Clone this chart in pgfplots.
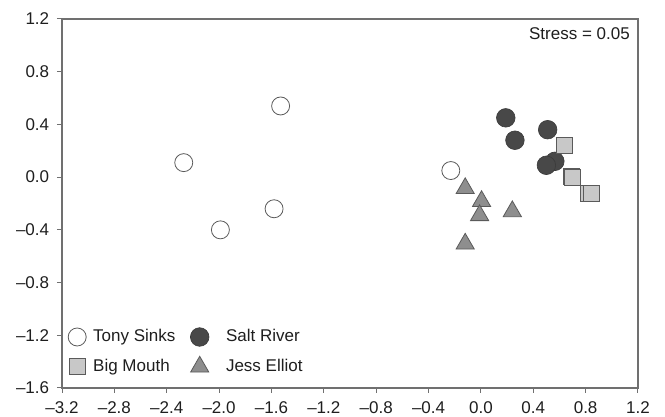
\documentclass[border=0pt]{standalone}
\usepackage{fontspec}
\setmainfont{Liberation Sans}
\usepackage{pgfplots}
\pgfplotsset{compat=1.18}
\definecolor{axgray}{HTML}{707070}
\definecolor{txt}{HTML}{1E1E1E}
\definecolor{edgegray}{HTML}{5A5A5A}
\definecolor{darkfill}{HTML}{484848}
\definecolor{lightfill}{HTML}{C8C8C8}
\definecolor{midfill}{HTML}{8E8E8E}
\begin{document}
\fontsize{17}{20}\selectfont
\begin{tikzpicture}
\useasboundingbox (0,0) rectangle (665pt,417pt);
\begin{axis}[
  at={(62pt,29pt)}, anchor=south west,
  width=576pt, height=369pt, scale only axis,
  xmin=-3.2, xmax=1.2, ymin=-1.6, ymax=1.2,
  xtick={-3.2,-2.8,-2.4,-2.0,-1.6,-1.2,-0.8,-0.4,0,0.4,0.8,1.2},
  xticklabels={–3.2,–2.8,–2.4,–2.0,–1.6,–1.2,–0.8,–0.4,0.0,0.4,0.8,1.2},
  ytick={-1.6,-1.2,-0.8,-0.4,0,0.4,0.8,1.2},
  yticklabels={–1.6,–1.2,–0.8,–0.4,0.0,0.4,0.8,1.2},
  axis line style={axgray, line width=1.1pt},
  tick style={axgray, line width=1pt},
  tick align=outside, major tick length=5pt,
  xtick pos=left, ytick pos=left,
  xticklabel style={text=txt, yshift=-2.5pt},
  yticklabel style={text=txt, xshift=-2pt},
  clip=false,
  legend columns=2,
  legend cell align=left,
  legend image code/.code={\draw[#1] plot coordinates {(0pt,0pt)};},
  legend style={draw=none, fill=none, inner sep=0pt, text=txt,
    at={(rel axis cs:0,0)}, anchor=south west, xshift=6pt, yshift=13pt,
    nodes={inner sep=0pt, anchor=west},
    /tikz/every odd column/.append style={column sep=7pt},
    /tikz/every even column/.append style={column sep=15pt},
    row sep=10pt},
]
\addplot[only marks, mark=*, mark size=9pt, mark options={draw=edgegray, fill=white, line width=0.8pt}]
  coordinates {(-1.53,0.54) (-2.27,0.11) (-1.58,-0.24) (-1.99,-0.40) (-0.23,0.05)};
\addlegendentry{Tony Sinks}
\addplot[only marks, mark=*, mark size=9.3pt, mark options={draw=darkfill!80!black, fill=darkfill, line width=0.6pt}]
  coordinates {(0.19,0.45) (0.26,0.28) (0.51,0.36) (0.565,0.12) (0.50,0.09)};
\addlegendentry{\hspace*{10pt}Salt River}
\addplot[only marks, mark=square*, mark size=8pt, mark options={draw=edgegray, fill=lightfill, line width=0.8pt}]
  coordinates {(0.64,0.24) (0.695,0.005) (0.70,-0.005) (0.823,-0.12) (0.843,-0.12)};
\addlegendentry{Big Mouth}
\addplot[only marks, mark=triangle*, mark size=10.5pt, mark options={draw=edgegray, fill=midfill, line width=0.8pt}]
  coordinates {(-0.12,-0.085) (0.005,-0.183) (-0.01,-0.29) (0.24,-0.26) (-0.12,-0.506)};
\addlegendentry{\hspace*{10pt}Jess Elliot}
\node[anchor=north east, inner sep=0pt, text=txt] at (rel axis cs:1,1) [xshift=-8pt, yshift=-8pt] {Stress = 0.05};
\end{axis}
\end{tikzpicture}
\end{document}
